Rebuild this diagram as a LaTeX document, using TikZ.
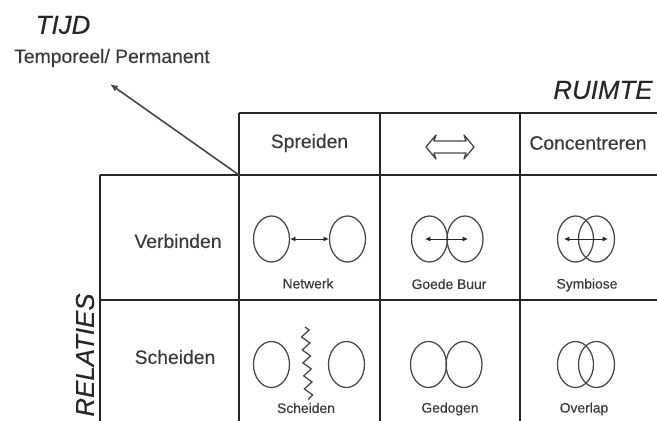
\documentclass[tikz,border=0pt]{standalone}
\usepackage{fontspec}
\setmainfont{Liberation Sans}[FakeBold=0.25]
\usetikzlibrary{shapes.geometric,arrows.meta,decorations.pathmorphing}
\definecolor{ink}{HTML}{262626}
\definecolor{txt}{HTML}{3A3A3A}
\definecolor{soft}{HTML}{484848}
\newdimen\pxu \pxu=0.75pt
\tikzset{
  grid line/.style={draw=ink,line width=1.6pt},
  blob/.style={ellipse,draw=soft,line width=0.95pt,minimum width=36\pxu,minimum height=46\pxu,inner sep=0pt},
  link/.style={draw=ink,line width=0.65pt,{Latex[length=4pt,width=3.8pt]}-{Latex[length=4pt,width=3.8pt]}},
  head/.style={text=txt,font=\fontsize{14.5}{16}\selectfont},
  small/.style={text=txt,font=\fontsize{10.4}{12}\selectfont},
  axis/.style={text=ink,font=\fontsize{19.4}{22}\selectfont\itshape},
}
\begin{document}
\begin{tikzpicture}[x=0.75pt,y=-0.75pt]
\useasboundingbox (0,0) rectangle (657,421);
% grid
\coordinate (tl) at (239,113); \coordinate (tr) at (657,113);
\coordinate (ml) at (100,175); \coordinate (c) at (239,175); \coordinate (mr) at (657,175);
\coordinate (rl) at (100,300); \coordinate (rr) at (657,300);
\coordinate (b0) at (100,421); \coordinate (b1) at (239,421); \coordinate (b2) at (380,421); \coordinate (b3) at (520,421);
\coordinate (t2) at (380,113); \coordinate (t3) at (520,113);
\draw[grid line] (tl)--(tr) (ml)--(mr) (rl)--(rr);
\draw[grid line] (ml)--(b0) (tl)--(b1) (t2)--(b2) (t3)--(b3);
% time arrow
\coordinate (tip) at (110,84);
\draw[draw=soft,line width=1.2pt,-{Latex[length=6pt,width=5pt]}] (c)--(tip);
% texts
\node[axis] (tijd) at (63,25) {TIJD};
\node[head] (temp) at (112,58) {Temporeel/ Permanent};
\node[axis] (ruimte) at (603,90) {RUIMTE};
\node[axis,rotate=90] (relaties) at (85,355) {RELATIES};
\node[head] (spreiden) at (309.5,143) {Spreiden};
\node[head] (conc) at (588,143) {Concentreren};
\node[head] (verb) at (178,241) {Verbinden};
\node[head] (sch) at (175,357) {Scheiden};
% double arrow
\draw[draw=soft,line width=1pt,line join=round] (426,147)--(436,135)--(434,141)--(466,141)--(464,135)--(474,147)--(464,159)--(466,153)--(434,153)--(436,159)--cycle;
% row 1
\node[blob] (n1) at (271.5,239) {};
\node[blob] (n2) at (347.5,239) {};
\draw[link] (n1)--(n2);
\node[small] (netwerk) at (308,283.5) {Netwerk};
\node[blob] (g1) at (429.5,239) {};
\node[blob] (g2) at (465,239) {};
\coordinate (g1a) at (425,239); \coordinate (g2a) at (468,239);
\draw[link] (g1a)--(g2a);
\node[small] (goede) at (449,284) {Goede Buur};
\node[blob] (s1) at (575.5,239) {};
\node[blob] (s2) at (596.5,239) {};
\coordinate (s1a) at (564,239); \coordinate (s2a) at (608,239);
\draw[link] (s1a)--(s2a);
\node[small] (symb) at (587,285) {Symbiose};
% row 2
\node[blob] (r1) at (271.5,364.5) {};
\node[blob] (r2) at (346.5,364.5) {};
\coordinate (z1) at (305,327); \coordinate (z2) at (309,400);
\draw[draw=soft,line width=0.95pt,decorate,decoration={zigzag,segment length=13\pxu,amplitude=4\pxu}] (z1)--(z2);
\node[small] (sch2) at (306,408) {Scheiden};
\node[blob] (d1) at (428.5,364.5) {};
\node[blob] (d2) at (464,364.5) {};
\node[small] (gedogen) at (450,409) {Gedogen};
\node[blob] (o1) at (575.5,364.5) {};
\node[blob] (o2) at (596.5,364.5) {};
\node[small] (overlap) at (584,409) {Overlap};
\end{tikzpicture}
\end{document}
